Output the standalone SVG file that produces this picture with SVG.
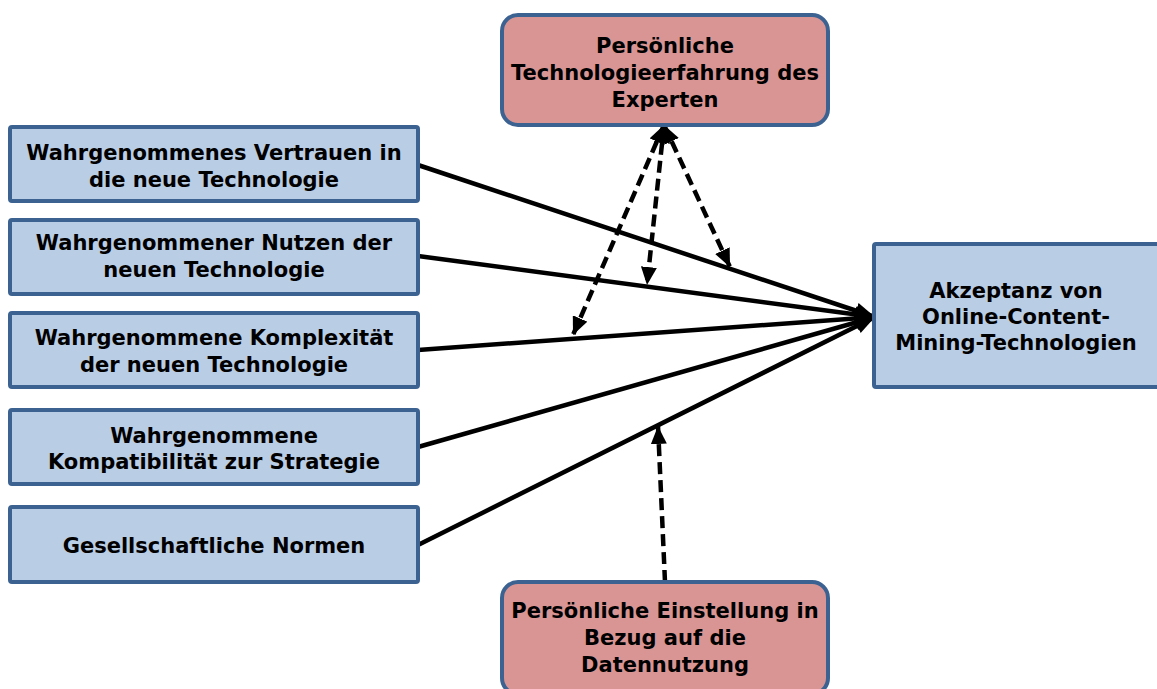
<svg xmlns="http://www.w3.org/2000/svg" width="1157" height="689" viewBox="0 0 1157 689">
<style>
.blue{fill:#b9cde5;stroke:#3c6292;stroke-width:4}
.pink{fill:#d99594;stroke:#3c6292;stroke-width:4}
text{font-family:"DejaVu Sans","Liberation Sans",sans-serif;font-weight:bold;font-size:21px;fill:#000;text-anchor:middle}
.solid{stroke:#000;stroke-width:4.5;fill:none;marker-end:url(#big)}
.dash{stroke:#000;stroke-width:4.5;fill:none;stroke-dasharray:12 6;marker-end:url(#small)}
.dash2{stroke:#000;stroke-width:4.5;fill:none;stroke-dasharray:12 6;marker-end:url(#small);marker-start:url(#smallS)}
</style>
<defs>
<marker id="big" markerUnits="userSpaceOnUse" viewBox="0 0 20 20" refX="20" refY="10" markerWidth="20" markerHeight="20" orient="auto"><path d="M0,2 L20,10 L0,18 Z" fill="#000"/></marker>
<marker id="small" markerUnits="userSpaceOnUse" viewBox="0 0 18 16" refX="18" refY="8" markerWidth="18" markerHeight="16" orient="auto"><path d="M0,0 L18,8 L0,16 Z" fill="#000"/></marker>
<marker id="smallS" markerUnits="userSpaceOnUse" viewBox="0 0 18 16" refX="0" refY="8" markerWidth="18" markerHeight="16" orient="auto"><path d="M18,0 L0,8 L18,16 Z" fill="#000"/></marker>
</defs>
<g id="connectors">
<line class="solid" x1="418" y1="165" x2="875" y2="317"/>
<line class="solid" x1="418" y1="256" x2="875" y2="317"/>
<line class="solid" x1="418" y1="350" x2="875" y2="317"/>
<line class="solid" x1="418" y1="447" x2="875" y2="317"/>
<line class="solid" x1="418" y1="545" x2="875" y2="317"/>
<line class="dash2" x1="664" y1="125" x2="573" y2="335"/>
<line class="dash2" x1="664" y1="125" x2="647" y2="285"/>
<line class="dash2" x1="664" y1="125" x2="730" y2="267"/>
<line class="dash" x1="665" y1="582" x2="658" y2="426"/>
</g>
<g id="n1"><rect class="blue" x="10" y="127" width="408" height="74" rx="2"/><text x="214" y="160">Wahrgenommenes Vertrauen in</text><text x="214" y="187">die neue Technologie</text></g>
<g id="n2"><rect class="blue" x="10" y="220" width="408" height="74" rx="2"/><text x="214" y="250">Wahrgenommener Nutzen der</text><text x="214" y="277">neuen Technologie</text></g>
<g id="n3"><rect class="blue" x="10" y="313" width="408" height="74" rx="2"/><text x="214" y="345">Wahrgenommene Komplexität</text><text x="214" y="372">der neuen Technologie</text></g>
<g id="n4"><rect class="blue" x="10" y="410" width="408" height="74" rx="2"/><text x="214" y="443">Wahrgenommene</text><text x="214" y="469">Kompatibilität zur Strategie</text></g>
<g id="n5"><rect class="blue" x="10" y="507" width="408" height="75" rx="2"/><text x="214" y="553">Gesellschaftliche Normen</text></g>
<g id="n6"><rect class="pink" x="502" y="15" width="326" height="110" rx="16"/><text x="665" y="53">Persönliche</text><text x="665" y="80">Technologieerfahrung des</text><text x="665" y="107">Experten</text></g>
<g id="n7"><rect class="pink" x="502" y="582" width="326" height="112" rx="16"/><text x="665" y="618">Persönliche Einstellung in</text><text x="665" y="645">Bezug auf die</text><text x="665" y="672">Datennutzung</text></g>
<g id="n8"><rect class="blue" x="874" y="244" width="290" height="143" rx="2"/><text x="1016" y="298">Akzeptanz von</text><text x="1016" y="324">Online-Content-</text><text x="1016" y="350">Mining-Technologien</text></g>
</svg>
